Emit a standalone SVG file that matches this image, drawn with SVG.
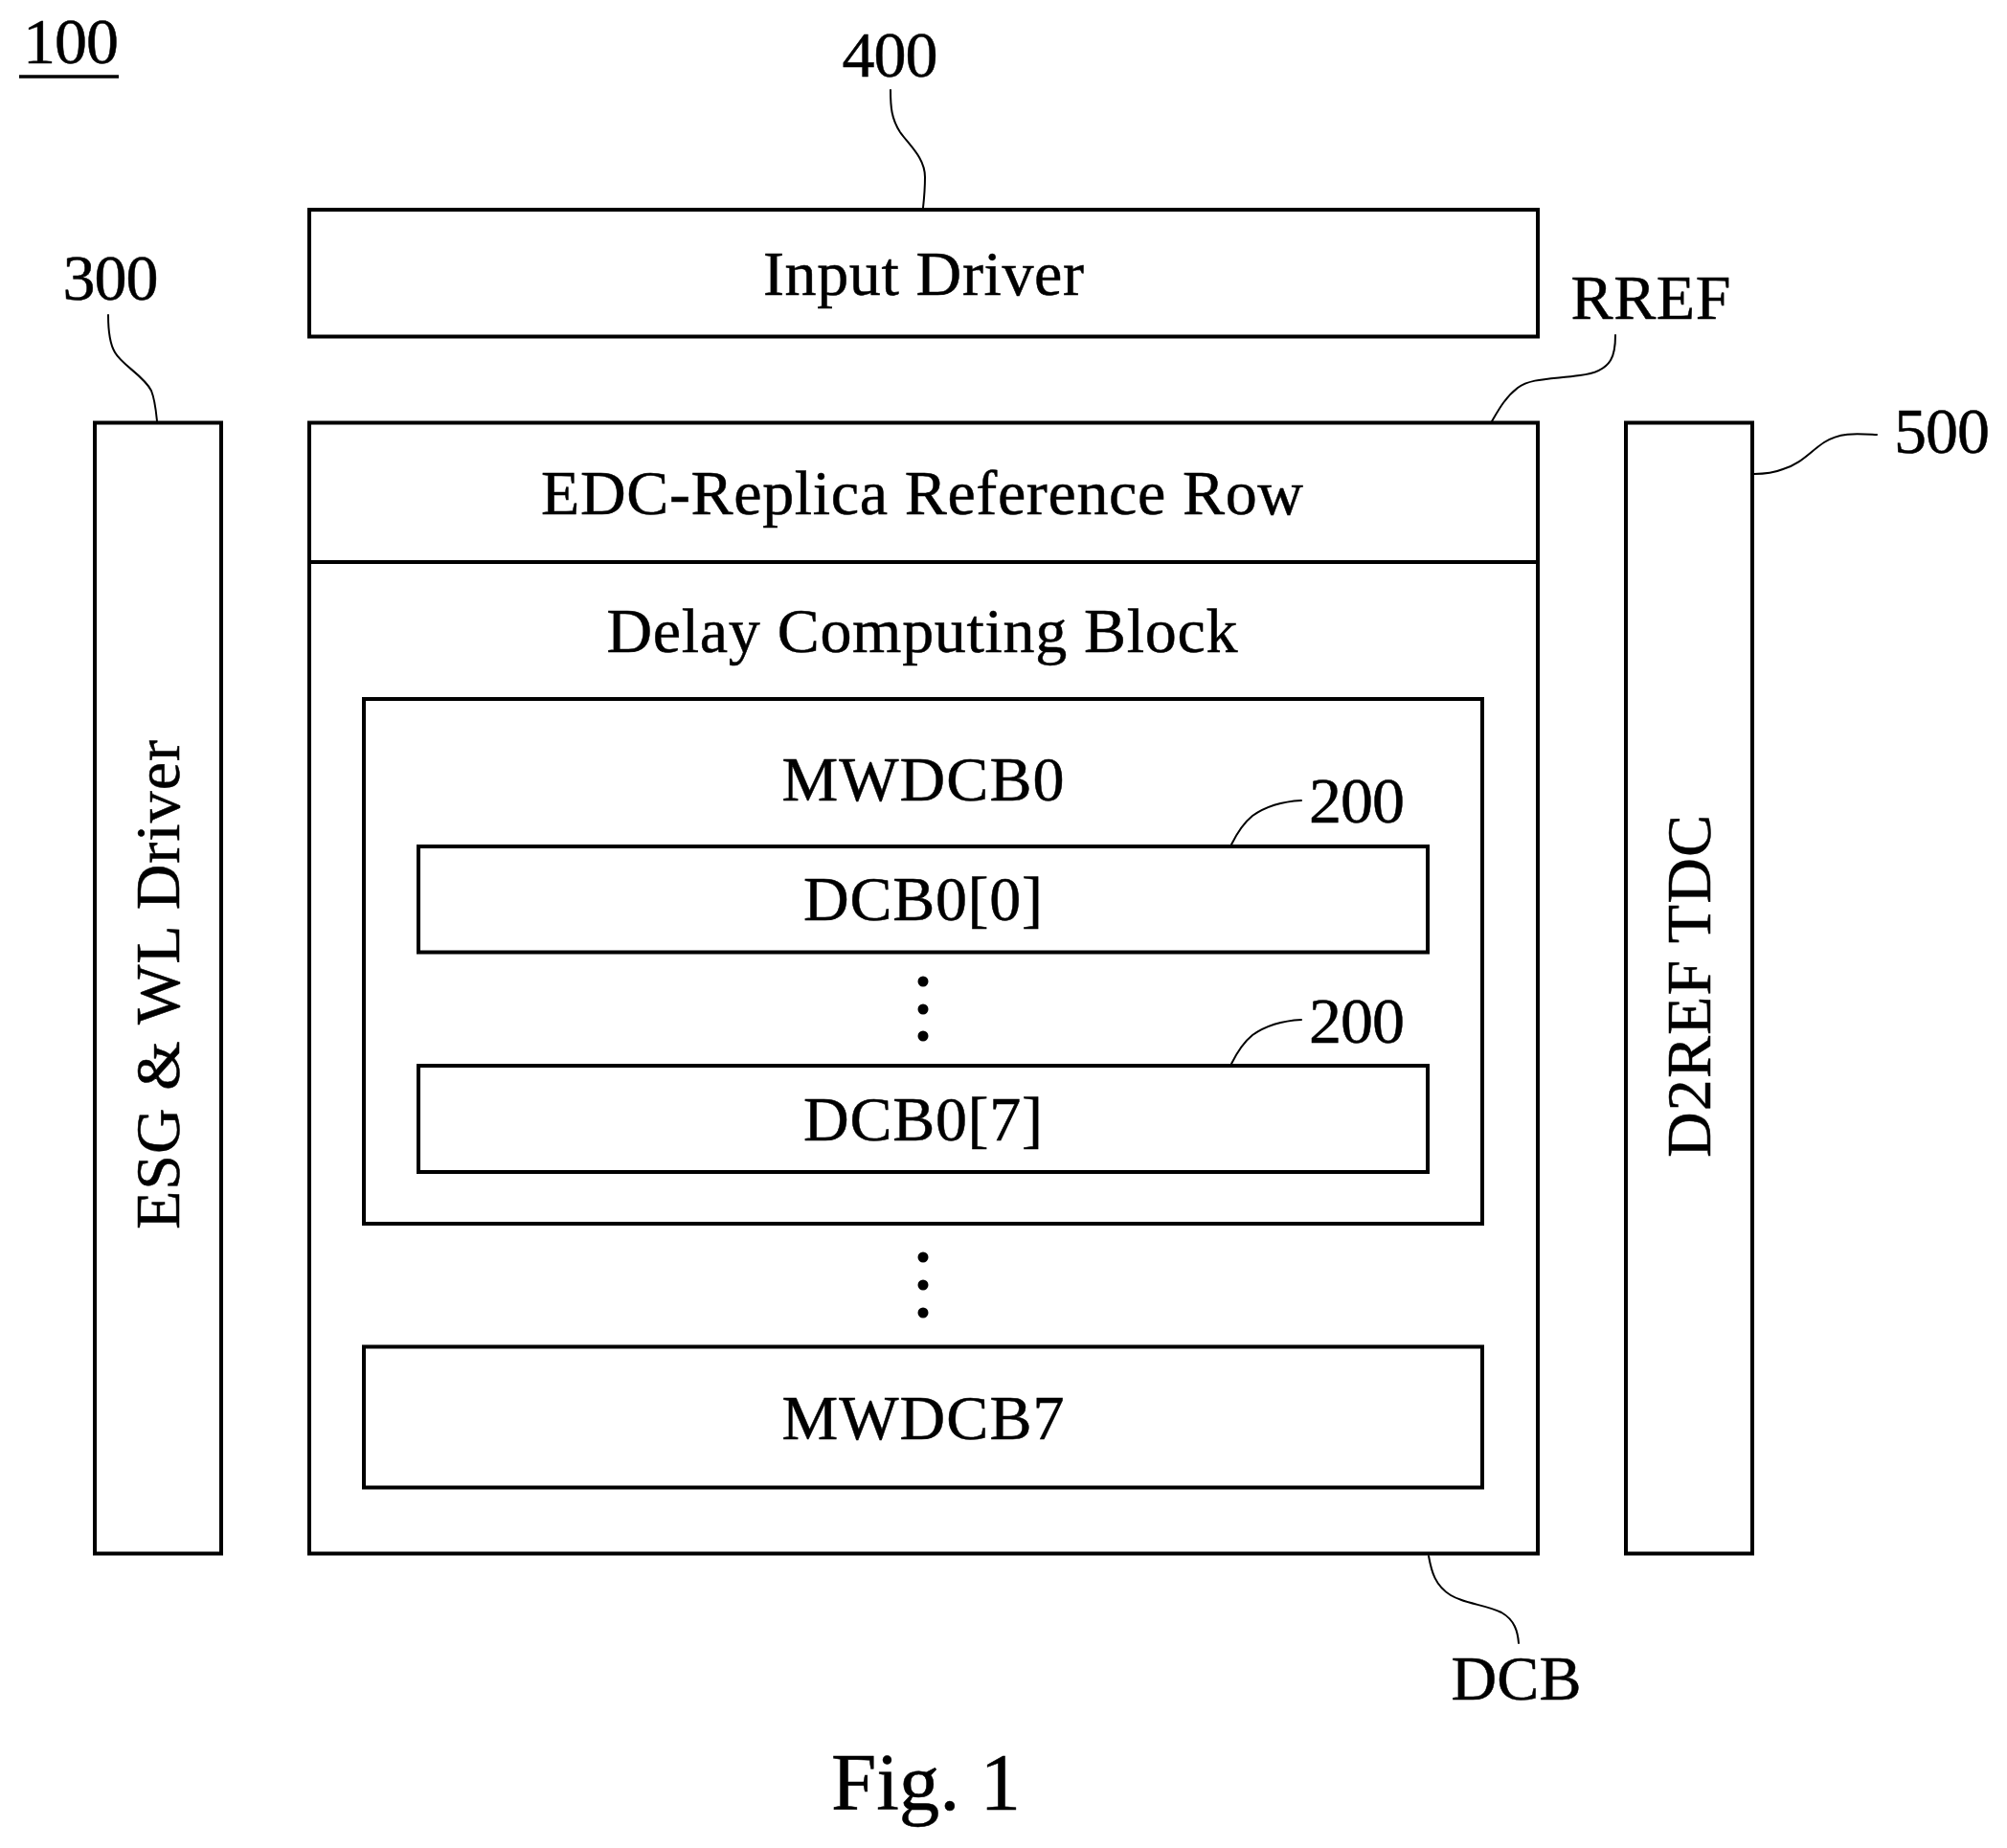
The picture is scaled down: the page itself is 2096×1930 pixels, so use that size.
<svg xmlns="http://www.w3.org/2000/svg" width="2096" height="1930" viewBox="0 0 2096 1930">
<style>
.b{fill:#fff;stroke:#000;stroke-width:4}
.l{fill:none;stroke:#000;stroke-width:2;stroke-linecap:round}
text{font-family:"Liberation Serif","Times New Roman",serif;font-size:66px;fill:#000;stroke:#000;stroke-width:.5;text-anchor:middle}
.n{font-size:68px}
</style>
<rect width="2096" height="1930" fill="#fff"/>
<g id="ref100"><text class="n" x="74" y="66" textLength="100">100</text><line x1="20" y1="80" x2="124" y2="80" stroke="#000" stroke-width="3.500"/></g>
<g id="driver400"><rect class="b" x="323" y="219" width="1283" height="132.500"/><text x="964.500" y="308" textLength="335">Input Driver</text></g>
<g id="esg300"><rect class="b" x="99" y="441.500" width="132" height="1181"/><text transform="translate(187 1028.500) rotate(-90)" textLength="511">ESG &amp; WL Driver</text></g>
<g id="tdc500"><rect class="b" x="1698" y="441.500" width="132" height="1181"/><text transform="translate(1786 1030) rotate(-90)" textLength="358">D2REF TDC</text></g>
<g id="dcb">
<rect class="b" x="323" y="441.500" width="1283" height="1181"/>
<line x1="323" y1="587" x2="1606" y2="587" stroke="#000" stroke-width="4"/>
<text x="963" y="537" textLength="796">EDC-Replica Reference Row</text>
<text x="963" y="680.500" textLength="659">Delay Computing Block</text>
</g>
<g id="mwdcb0"><rect class="b" x="380" y="730" width="1168" height="548"/><text x="964" y="836" textLength="295">MWDCB0</text></g>
<g id="dcb00"><rect class="b" x="437" y="884" width="1054" height="110.500"/><text x="964" y="961" textLength="250">DCB0[0]</text></g>
<g id="dcb07"><rect class="b" x="437" y="1113" width="1054" height="111"/><text x="964" y="1191" textLength="250">DCB0[7]</text></g>
<g id="mwdcb7"><rect class="b" x="380" y="1406.500" width="1168" height="147"/><text x="964" y="1503" textLength="295">MWDCB7</text></g>
<g id="dots"><circle cx="964" cy="1025" r="5.500"/><circle cx="964" cy="1054" r="5.500"/><circle cx="964" cy="1082" r="5.500"/><circle cx="964" cy="1313" r="5.500"/><circle cx="964" cy="1342" r="5.500"/><circle cx="964" cy="1371" r="5.500"/></g>
<g id="connectors">
<path class="l" d="M930 94C930 112 931 124 940 138C950 152 966 165 966 185C966 198 965 208 964 217"/>
<path class="l" d="M113 329C113 345 114 358 120 368C128 382 150 392 158 408C162 418 163 430 164 440"/>
<path class="l" d="M1687 350C1687 368 1686 388 1650 392C1620 396 1598 395 1585 405C1572 415 1565 428 1558 440"/>
<path class="l" d="M1960 454C1940 453 1922 451 1905 462C1890 472 1880 485 1862 490C1852 494 1842 495 1832 495"/>
<path class="l" d="M1359 836C1340 837 1322 842 1308 852C1298 860 1292 870 1286 882"/>
<path class="l" d="M1359 1065C1340 1066 1322 1071 1308 1081C1298 1089 1292 1099 1286 1111"/>
<path class="l" d="M1492 1625C1495 1642 1499 1656 1515 1666C1530 1675 1552 1676 1568 1684C1582 1692 1585 1704 1586 1716"/>
</g>
<g id="labels">
<text class="n" x="929.500" y="80" textLength="100">400</text>
<text class="n" x="115.500" y="313" textLength="100">300</text>
<text x="1724" y="333" textLength="167">RREF</text>
<text class="n" x="2028" y="473" textLength="100">500</text>
<text class="n" x="1417" y="858.500" textLength="100">200</text>
<text class="n" x="1417" y="1088.500" textLength="100">200</text>
<text x="1583.500" y="1775" textLength="136">DCB</text>
<text x="967" y="1890" style="font-size:85px" textLength="198">Fig. 1</text>
</g>
</svg>
